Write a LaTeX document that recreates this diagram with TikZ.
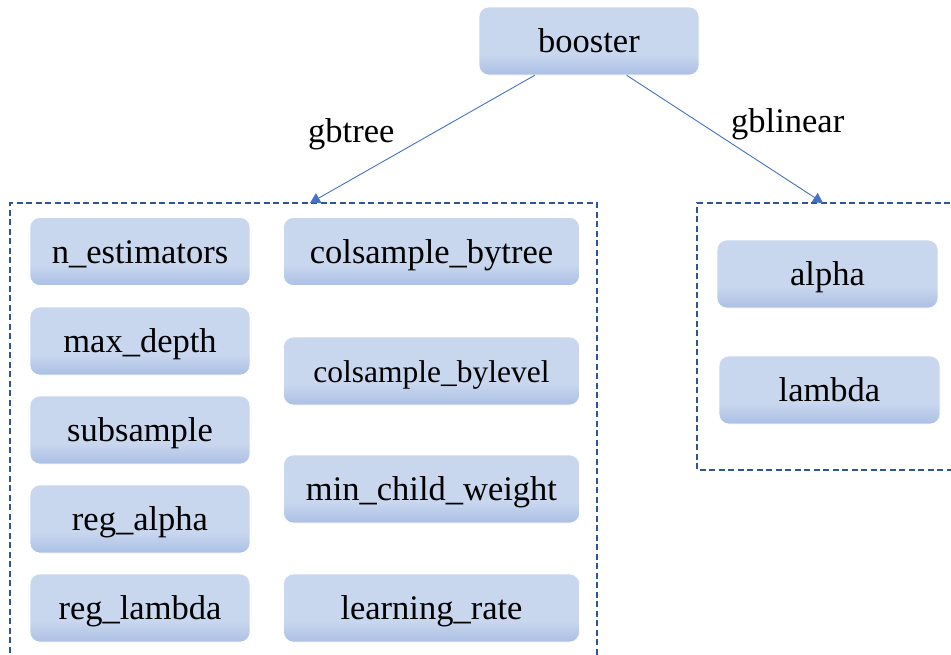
\documentclass[tikz,border=0pt]{standalone}
\usepackage{fontspec}
\setmainfont{Liberation Serif}
\usetikzlibrary{arrows.meta,calc}

\definecolor{boxtop}{HTML}{C8D6EE}
\definecolor{boxbot}{HTML}{ABC0E5}
\definecolor{linkblue}{HTML}{4472C4}
\definecolor{frameblue}{HTML}{2F5597}

% soft top-to-bottom fill of the parameter boxes
\pgfdeclareverticalshading{paramshade}{100bp}{
  color(0bp)=(boxbot); color(25bp)=(boxbot); color(40bp)=(boxtop);
  color(100bp)=(boxtop)}

\tikzset{
  param/.style={rounded corners=10pt, shading=paramshade, draw=white, line width=0.6pt,
    minimum height=68pt, inner sep=0pt, text height=30pt, text depth=7pt,
    font=\fontsize{34.5}{40}\selectfont},
  smallparam/.style={param, font=\fontsize{31.5}{36}\selectfont},
  group/.style={draw=frameblue, line width=1.8pt, dash pattern=on 6pt off 3.5pt},
  link/.style={draw=linkblue, line width=0.9pt, -{Triangle[length=10pt,width=11pt]}},
  branch/.style={anchor=base west, inner sep=0pt, font=\fontsize{34.5}{40}\selectfont}
}

\begin{document}
\begin{tikzpicture}[x=1pt, y=-1pt]
\useasboundingbox (0,0) rectangle (951,654);
\clip (0,0) rectangle (951,654);

% root
\node[param, minimum width=220pt] (booster) at (589,41) {booster};

% dashed groups (running past the page edge)
\draw[group] (10,700) -- (10,203) -- (597,203) -- (597,700);
\draw[group] (1000,470) -- (697,470) -- (697,203) -- (1000,203);

% gbtree parameters
\node[param, minimum width=220pt] (nest) at (140,251.5) {n\_estimators};
\node[param, minimum width=220pt] (maxd) at (140,341) {max\_depth};
\node[param, minimum width=220pt] (subs) at (140,430) {subsample};
\node[param, minimum width=220pt] (rega) at (140,519) {reg\_alpha};
\node[param, minimum width=220pt] (regl) at (140,608) {reg\_lambda};

\node[param, minimum width=296pt] (cbt) at (431.5,251.5) {colsample\_bytree};
\node[smallparam, minimum width=296pt] (cbl) at (431.5,371) {colsample\_bylevel};
\node[param, minimum width=296pt] (mcw) at (431.5,489) {min\_child\_weight};
\node[param, minimum width=296pt] (lr) at (431.5,608) {learning\_rate};

% gblinear parameters
\node[param, minimum width=221pt] (alpha) at (827.5,274) {alpha};
\node[param, minimum width=221pt] (lambda) at (829.5,390) {lambda};

% connectors to the groups
\coordinate (treein) at (310,203);
\coordinate (linin) at (823,203);
\draw[link] ($(booster.south west)+(56,0)$) -- (treein);
\draw[link] ($(booster.south west)+(148,0)$) -- (linin);

\node[branch] (gbtree) at (308,142) {gbtree};
\node[branch] (gblinear) at (731,132) {gblinear};
\end{tikzpicture}
\end{document}
